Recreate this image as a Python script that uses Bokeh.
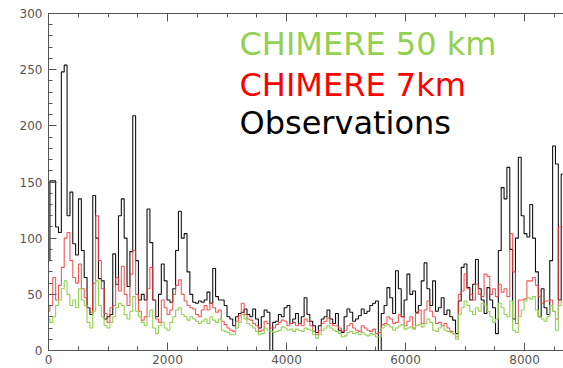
from bokeh.plotting import figure
from bokeh.models import LinearAxis, SingleIntervalTicker, Range1d, Label, CustomJSTickFormatter
from bokeh.embed import file_html
from bokeh.resources import INLINE

# time axis: hours of the year, one value every 48 h
hours = list(range(0, 8689, 48))

observations = [
    80, 151, 151, 110, 105, 248, 254, 120, 141, 95,
    85, 135, 89, 65, 38, 32, 138, 100, 64, 62,
    28, 30, 32, 86, 59, 120, 135, 100, 57, 88,
    209, 80, 45, 50, 45, 126, 96, 45, 30, 50,
    77, 62, 45, 43, 55, 89, 124, 100, 104, 70,
    50, 43, 42, 44, 43, 45, 52, 42, 73, 48,
    45, 45, 40, 30, 28, 22, 30, 33, 34, 37,
    32, 30, 37, 28, 20, 30, 36, 34, 0, 25,
    26, 32, 30, 38, 40, 24, 28, 33, 24, 30,
    47, 32, 26, 22, 16, 22, 28, 30, 36, 28,
    24, 33, 18, 16, 30, 37, 34, 26, 28, 31,
    37, 33, 35, 40, 42, 44, 0, 33, 40, 56,
    47, 33, 71, 55, 30, 45, 68, 50, 53, 34,
    40, 62, 78, 55, 40, 62, 35, 38, 47, 32,
    36, 30, 27, 15, 44, 74, 77, 56, 45, 59,
    81, 55, 45, 33, 56, 45, 38, 15, 89, 145,
    135, 163, 90, 28, 100, 172, 120, 104, 101, 130,
    100, 70, 30, 55, 38, 32, 80, 182, 166, 45, 157,
]

chimere_7km = [
    35, 40, 65, 45, 58, 74, 100, 105, 80, 65,
    60, 77, 55, 47, 38, 34, 60, 120, 80, 55,
    33, 25, 38, 40, 65, 53, 75, 50, 40, 68,
    89, 50, 35, 27, 30, 55, 74, 45, 28, 25,
    45, 38, 32, 36, 50, 58, 63, 50, 44, 40,
    38, 37, 32, 30, 36, 40, 36, 42, 38, 34,
    36, 26, 23, 20, 18, 17, 26, 31, 42, 32,
    28, 27, 24, 22, 17, 18, 26, 24, 20, 20,
    23, 25, 27, 26, 22, 24, 25, 22, 24, 22,
    28, 26, 22, 17, 14, 18, 24, 26, 29, 24,
    22, 22, 20, 17, 18, 22, 24, 20, 18, 17,
    22, 20, 18, 17, 19, 15, 16, 23, 24, 30,
    28, 24, 25, 32, 30, 22, 26, 30, 20, 33,
    36, 24, 36, 44, 35, 30, 24, 25, 22, 24,
    20, 17, 15, 12, 50, 53, 68, 55, 50, 45,
    59, 50, 48, 68, 66, 50, 55, 48, 59, 52,
    55, 48, 104, 70, 24, 45, 45, 46, 62, 62,
    65, 58, 48, 42, 44, 44, 45, 35, 28, 110, 110,
]

chimere_50km = [
    28, 25, 30, 40, 45, 55, 62, 50, 40, 45,
    38, 55, 45, 40, 25, 20, 35, 62, 40, 30,
    22, 20, 25, 30, 38, 42, 40, 32, 28, 35,
    48, 35, 30, 25, 22, 30, 36, 20, 15, 22,
    25, 20, 18, 25, 30, 36, 38, 32, 30, 27,
    30, 28, 26, 24, 26, 28, 24, 30, 27, 25,
    28, 18, 17, 16, 14, 14, 20, 25, 32, 28,
    24, 22, 20, 17, 14, 15, 20, 18, 17, 16,
    17, 18, 21, 20, 18, 19, 17, 19, 18, 17,
    20, 19, 18, 14, 11, 14, 18, 20, 22, 20,
    18, 17, 15, 12, 13, 16, 17, 15, 16, 14,
    16, 14, 13, 15, 14, 12, 12, 20, 22, 23,
    21, 18, 20, 22, 23, 19, 20, 21, 19, 22,
    23, 21, 24, 28, 25, 18, 17, 20, 22, 18,
    17, 16, 15, 10, 32, 38, 44, 40, 35, 32,
    38, 35, 42, 40, 35, 30, 25, 28, 42, 38,
    32, 30, 44, 18, 16, 30, 36, 44, 47, 46,
    48, 36, 30, 28, 26, 30, 40, 35, 18, 40, 44,
]

legend_labels = ["CHIMERE 50 km", "CHIMERE 7km", "Observations"]
legend_colors = ["#92d050", "#ff0000", "#000000"]
legend_y = [273.0, 236.5, 202.5]

AXIS_COLOR = "#555555"
FONT = "DejaVu Sans"

p = figure(width=563, height=368, x_range=Range1d(0, 8655), y_range=Range1d(0, 300),
           output_backend="svg", toolbar_location=None,
           min_border_left=48, min_border_right=0, min_border_top=13, min_border_bottom=18)
p.outline_line_color = None
p.xgrid.visible = False
p.ygrid.visible = False
p.background_fill_color = "white"

p.xaxis.ticker = SingleIntervalTicker(interval=2000, num_minor_ticks=4)
p.yaxis.ticker = SingleIntervalTicker(interval=50, num_minor_ticks=5)

for ax in (p.xaxis[0], p.yaxis[0]):
    ax.axis_line_color = AXIS_COLOR
    ax.major_tick_line_color = AXIS_COLOR
    ax.minor_tick_line_color = AXIS_COLOR
    ax.major_tick_in = 8
    ax.major_tick_out = 0
    ax.minor_tick_in = 4
    ax.minor_tick_out = 0
    ax.major_label_text_font = FONT
    ax.major_label_text_font_size = "12px"
    ax.major_label_text_color = AXIS_COLOR
p.xaxis.major_label_standoff = 4
p.yaxis.major_label_standoff = 6

top = LinearAxis(ticker=SingleIntervalTicker(interval=2000, num_minor_ticks=4),
                 formatter=CustomJSTickFormatter(code="return ''"))
top.axis_line_color = AXIS_COLOR
top.major_tick_line_color = AXIS_COLOR
top.minor_tick_line_color = AXIS_COLOR
top.major_tick_in = 8
top.major_tick_out = 0
top.minor_tick_in = 4
top.minor_tick_out = 0
top.major_label_standoff = 0
p.add_layout(top, "above")

p.step(hours, observations, mode="center", line_color="#111111", line_width=1.1)
p.step(hours, chimere_7km, mode="center", line_color="#f03a3a", line_width=1.1, line_alpha=0.85)
p.step(hours, chimere_50km, mode="center", line_color="#92d050", line_width=1.1)

for txt, col, yy in zip(legend_labels, legend_colors, legend_y):
    p.add_layout(Label(x=3210, y=yy, text=txt, text_color=col, text_font=FONT,
                       text_font_size="32px", text_baseline="alphabetic"))

open("out.html", "w").write(file_html(p, INLINE))
